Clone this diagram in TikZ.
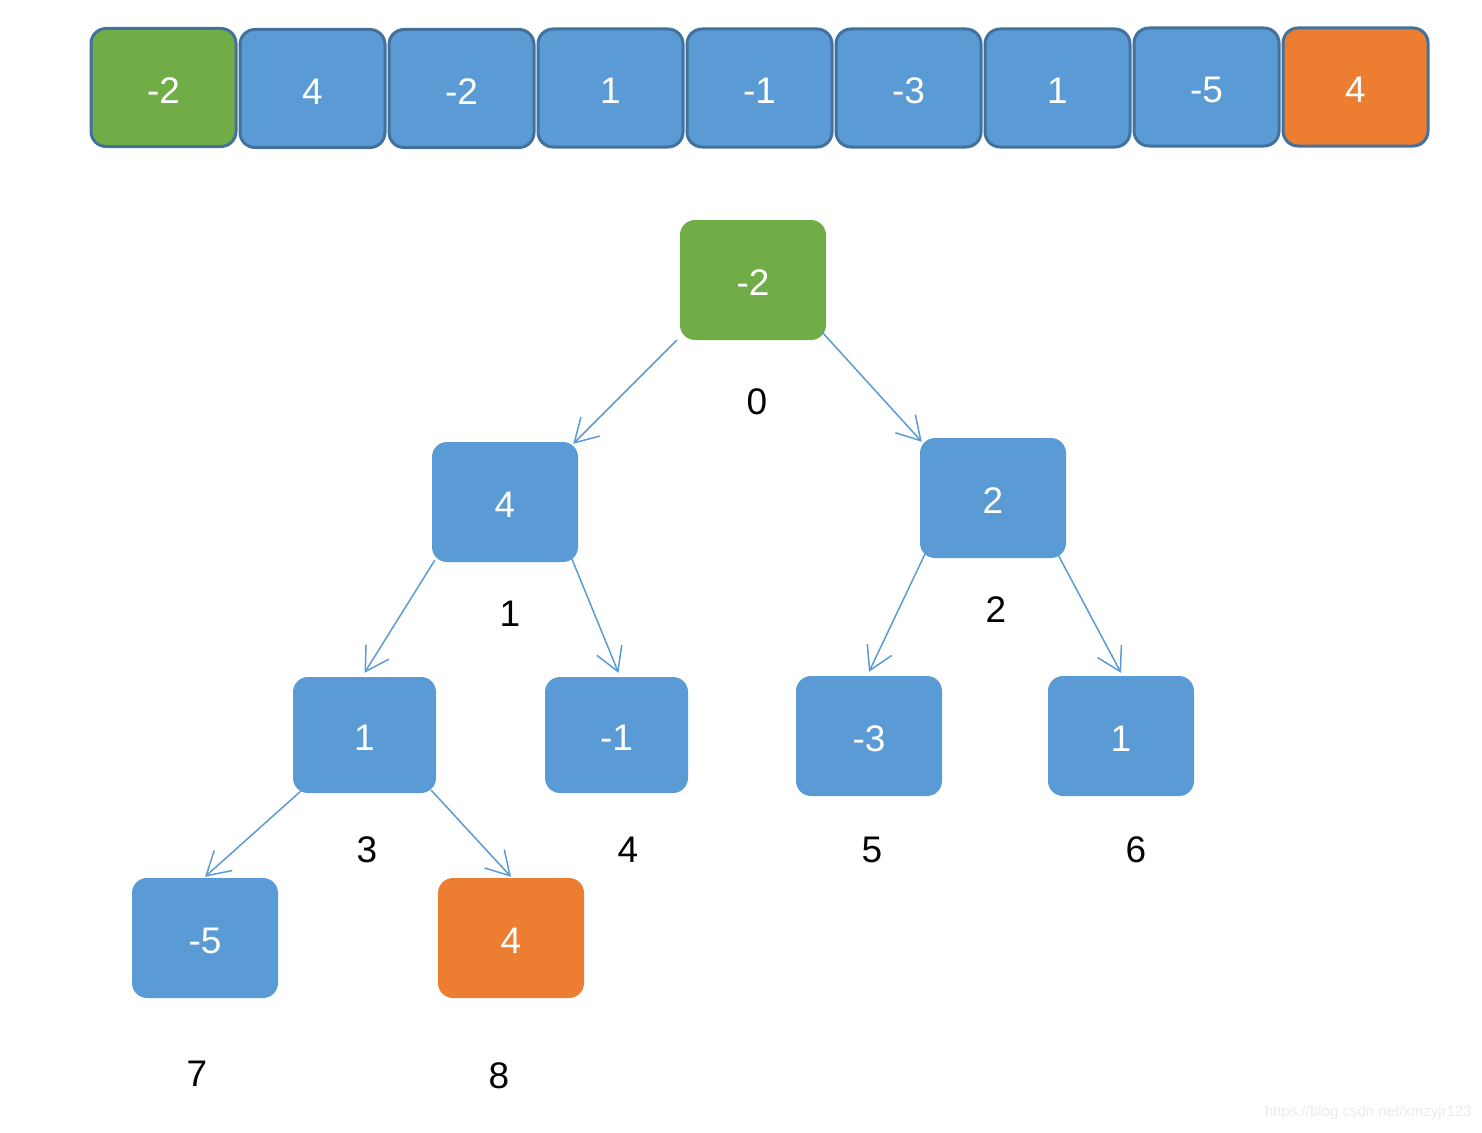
\documentclass[tikz,border=0pt]{standalone}
\usepackage{fontspec}
\setmainfont{Liberation Sans}
\usetikzlibrary{arrows.meta}
\definecolor{cblue}{HTML}{5B9BD5}
\definecolor{cgreen}{HTML}{70AD47}
\definecolor{corange}{HTML}{ED7D31}
\definecolor{cborder}{HTML}{41719C}
\begin{document}
\begin{tikzpicture}[x=1pt,y=-1pt,
  arrbox/.style={draw=cborder, line width=3pt, rounded corners=15pt, minimum width=145pt, minimum height=118pt, inner sep=0pt, text=white, text height=31pt, text depth=0pt, font=\fontsize{37}{44}\selectfont},
  tn/.style={rounded corners=15pt, minimum width=146pt, minimum height=120pt, inner sep=0pt, text=white, text height=31pt, text depth=0pt, font=\fontsize{37}{44}\selectfont},
  tnsmall/.style={tn, minimum width=143pt, minimum height=116pt},
  lbl/.style={inner sep=0pt, text=black, font=\fontsize{37}{44}\selectfont},
  edge/.style={draw=cblue, line width=1.5pt, -{Straight Barb[length=23pt,width=27pt]}}]
\useasboundingbox (0,0) rectangle (1482,1132);
% array
\node[arrbox, fill=cgreen]  (a0) at (163.5,87.5) {-2};
\node[arrbox, fill=cblue]   (a1) at (312.5,88.5) {4};
\node[arrbox, fill=cblue]   (a2) at (461.5,88.5) {-2};
\node[arrbox, fill=cblue]   (a3) at (610.5,88) {1};
\node[arrbox, fill=cblue]   (a4) at (759.5,88) {-1};
\node[arrbox, fill=cblue]   (a5) at (908.5,88) {-3};
\node[arrbox, fill=cblue]   (a6) at (1057.5,88) {1};
\node[arrbox, fill=cblue]   (a7) at (1206.5,87) {-5};
\node[arrbox, fill=corange] (a8) at (1355.5,87) {4};
% tree
\node[tn, fill=cgreen]   (t0) at (753,280) {-2};
\node[tn, fill=cblue]    (t1) at (505,502) {4};
\node[tn, fill=cblue]    (t2) at (993,498) {2};
\node[tnsmall, fill=cblue] (t3) at (364.5,735) {1};
\node[tnsmall, fill=cblue] (t4) at (616.5,735) {-1};
\node[tn, fill=cblue]    (t5) at (869,736) {-3};
\node[tn, fill=cblue]    (t6) at (1121,736) {1};
\node[tn, fill=cblue]    (t7) at (205,938) {-5};
\node[tn, fill=corange]  (t8) at (511,938) {4};
% index labels
\node[lbl] (l0) at (757,402) {0};
\node[lbl] (l1) at (510,614) {1};
\node[lbl] (l2) at (996,610) {2};
\node[lbl] (l3) at (367,850) {3};
\node[lbl] (l4) at (628,850) {4};
\node[lbl] (l5) at (872,850) {5};
\node[lbl] (l6) at (1136,850) {6};
\node[lbl] (l7) at (197,1074) {7};
\node[lbl] (l8) at (499,1076) {8};
% edges
\draw[edge] ([xshift=-3pt]t0.south west) -- ([xshift=-5pt,yshift=-2pt]t1.north east);
\draw[edge] ([xshift=-4pt,yshift=8pt]t0.south east) -- ([xshift=2pt,yshift=-4pt]t2.north west);
\draw[edge] ([xshift=3pt,yshift=2pt]t1.south west) -- ([yshift=4pt]t3.north);
\draw[edge] ([xshift=-7pt,yshift=5pt]t1.south east) -- ([xshift=2pt,yshift=4pt]t4.north);
\draw[edge] ([xshift=6pt,yshift=6pt]t2.south west) -- ([yshift=4pt]t5.north);
\draw[edge] ([xshift=-9pt,yshift=5pt]t2.south east) -- ([yshift=3pt]t6.north);
\draw[edge] ([xshift=9pt,yshift=3pt]t3.south west) -- ([yshift=1pt]t7.north);
\draw[edge] ([xshift=-5pt,yshift=3pt]t3.south east) -- ([yshift=1pt]t8.north);
% watermark
\node[inner sep=0pt, text=black!8, font=\fontsize{15}{18}\selectfont, anchor=east] (wm) at (1472,1113) {https://blog.csdn.net/xmzyjr123};
\end{tikzpicture}
\end{document}
